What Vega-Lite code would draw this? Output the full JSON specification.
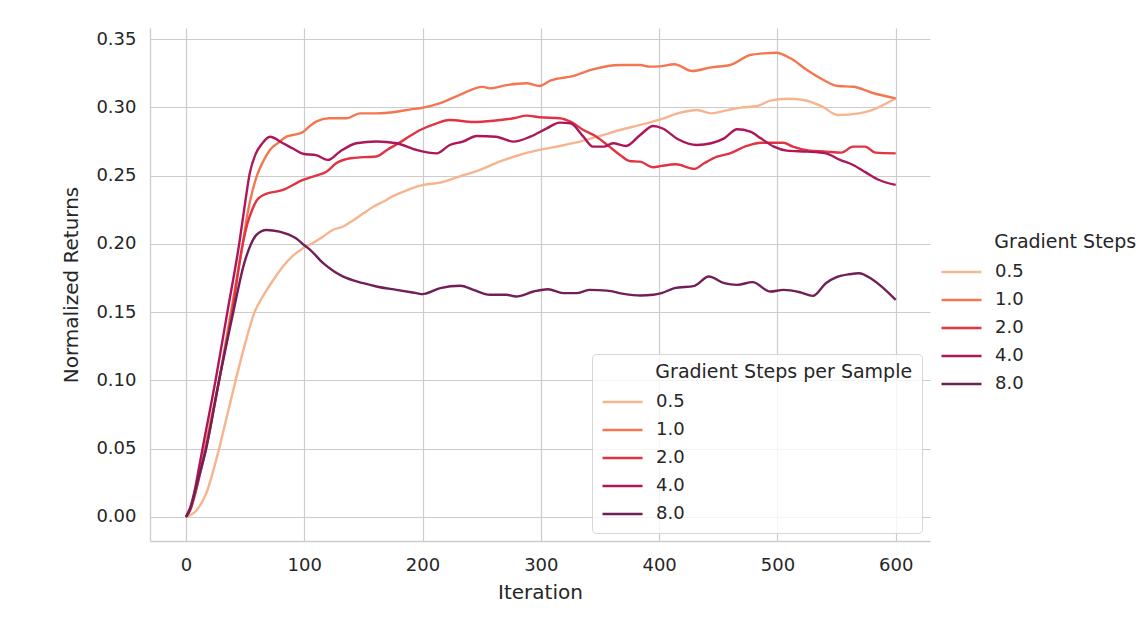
{
  "$schema": "https://vega.github.io/schema/vega-lite/v6.json",
  "width": 780,
  "height": 513,
  "autosize": {"type": "none"},
  "padding": {"left": 150, "top": 28, "right": 206, "bottom": 88},
  "background": "white",
  "config": {
    "view": {"stroke": null},
    "font": "DejaVu Sans",
    "axis": {
      "domainColor": "#cccccc",
      "domainWidth": 1.3,
      "gridColor": "#cccccc",
      "gridWidth": 1.2,
      "ticks": false,
      "labelFontSize": 18,
      "labelColor": "#262626",
      "titleFontSize": 20,
      "titleFontWeight": "normal",
      "titleColor": "#262626"
    }
  },
  "datasets": {
    "runs": [
      {"steps":"0.5","iteration":0,"ret":0},{"steps":"0.5","iteration":8,"ret":0.004},{"steps":"0.5","iteration":17,"ret":0.017},{"steps":"0.5","iteration":28,"ret":0.05},{"steps":"0.5","iteration":35,"ret":0.075},{"steps":"0.5","iteration":42,"ret":0.1},{"steps":"0.5","iteration":50,"ret":0.127},{"steps":"0.5","iteration":58,"ret":0.15},{"steps":"0.5","iteration":65,"ret":0.1615},{"steps":"0.5","iteration":75,"ret":0.175},{"steps":"0.5","iteration":82,"ret":0.1834},{"steps":"0.5","iteration":90,"ret":0.191},{"steps":"0.5","iteration":99,"ret":0.1968},{"steps":"0.5","iteration":108,"ret":0.201},{"steps":"0.5","iteration":116,"ret":0.2054},{"steps":"0.5","iteration":124,"ret":0.2102},{"steps":"0.5","iteration":133,"ret":0.2127},{"steps":"0.5","iteration":141,"ret":0.217},{"steps":"0.5","iteration":150,"ret":0.2224},{"steps":"0.5","iteration":158,"ret":0.227},{"steps":"0.5","iteration":167,"ret":0.231},{"steps":"0.5","iteration":175,"ret":0.235},{"steps":"0.5","iteration":184,"ret":0.2383},{"steps":"0.5","iteration":192,"ret":0.241},{"steps":"0.5","iteration":201,"ret":0.2432},{"steps":"0.5","iteration":215,"ret":0.2449},{"steps":"0.5","iteration":231,"ret":0.2493},{"steps":"0.5","iteration":248,"ret":0.2541},{"steps":"0.5","iteration":265,"ret":0.2602},{"steps":"0.5","iteration":282,"ret":0.2651},{"steps":"0.5","iteration":299,"ret":0.2688},{"steps":"0.5","iteration":316,"ret":0.2717},{"steps":"0.5","iteration":333,"ret":0.2749},{"steps":"0.5","iteration":350,"ret":0.279},{"steps":"0.5","iteration":367,"ret":0.2834},{"steps":"0.5","iteration":384,"ret":0.2871},{"steps":"0.5","iteration":401,"ret":0.2912},{"steps":"0.5","iteration":418,"ret":0.2961},{"steps":"0.5","iteration":432,"ret":0.298},{"steps":"0.5","iteration":444,"ret":0.2956},{"steps":"0.5","iteration":458,"ret":0.298},{"steps":"0.5","iteration":469,"ret":0.2998},{"steps":"0.5","iteration":483,"ret":0.301},{"steps":"0.5","iteration":494,"ret":0.3049},{"steps":"0.5","iteration":508,"ret":0.3063},{"steps":"0.5","iteration":522,"ret":0.3054},{"steps":"0.5","iteration":538,"ret":0.3005},{"steps":"0.5","iteration":551,"ret":0.2944},{"steps":"0.5","iteration":569,"ret":0.2956},{"steps":"0.5","iteration":580,"ret":0.298},{"steps":"0.5","iteration":600,"ret":0.3066},
      {"steps":"1.0","iteration":0,"ret":0},{"steps":"1.0","iteration":4,"ret":0.006},{"steps":"1.0","iteration":8,"ret":0.018},{"steps":"1.0","iteration":12,"ret":0.033},{"steps":"1.0","iteration":16,"ret":0.05},{"steps":"1.0","iteration":22,"ret":0.075},{"steps":"1.0","iteration":28,"ret":0.1},{"steps":"1.0","iteration":33,"ret":0.125},{"steps":"1.0","iteration":38,"ret":0.15},{"steps":"1.0","iteration":43,"ret":0.175},{"steps":"1.0","iteration":48,"ret":0.2},{"steps":"1.0","iteration":52,"ret":0.222},{"steps":"1.0","iteration":56,"ret":0.238},{"steps":"1.0","iteration":60,"ret":0.25},{"steps":"1.0","iteration":65,"ret":0.26},{"steps":"1.0","iteration":71,"ret":0.2688},{"steps":"1.0","iteration":78,"ret":0.274},{"steps":"1.0","iteration":85,"ret":0.2785},{"steps":"1.0","iteration":92,"ret":0.28},{"steps":"1.0","iteration":99,"ret":0.282},{"steps":"1.0","iteration":105,"ret":0.2865},{"steps":"1.0","iteration":110,"ret":0.2895},{"steps":"1.0","iteration":121,"ret":0.292},{"steps":"1.0","iteration":136,"ret":0.292},{"steps":"1.0","iteration":147,"ret":0.2956},{"steps":"1.0","iteration":161,"ret":0.2956},{"steps":"1.0","iteration":178,"ret":0.2968},{"steps":"1.0","iteration":190,"ret":0.2985},{"steps":"1.0","iteration":198,"ret":0.2993},{"steps":"1.0","iteration":215,"ret":0.303},{"steps":"1.0","iteration":231,"ret":0.309},{"steps":"1.0","iteration":251,"ret":0.315},{"steps":"1.0","iteration":257,"ret":0.3139},{"steps":"1.0","iteration":271,"ret":0.3163},{"steps":"1.0","iteration":288,"ret":0.3176},{"steps":"1.0","iteration":299,"ret":0.3156},{"steps":"1.0","iteration":308,"ret":0.3195},{"steps":"1.0","iteration":327,"ret":0.3229},{"steps":"1.0","iteration":344,"ret":0.3278},{"steps":"1.0","iteration":367,"ret":0.331},{"steps":"1.0","iteration":384,"ret":0.331},{"steps":"1.0","iteration":392,"ret":0.3298},{"steps":"1.0","iteration":400,"ret":0.33},{"steps":"1.0","iteration":413,"ret":0.3315},{"steps":"1.0","iteration":428,"ret":0.3266},{"steps":"1.0","iteration":444,"ret":0.3293},{"steps":"1.0","iteration":460,"ret":0.331},{"steps":"1.0","iteration":477,"ret":0.3383},{"steps":"1.0","iteration":488,"ret":0.3395},{"steps":"1.0","iteration":499,"ret":0.34},{"steps":"1.0","iteration":511,"ret":0.3359},{"steps":"1.0","iteration":525,"ret":0.3273},{"steps":"1.0","iteration":539,"ret":0.32},{"steps":"1.0","iteration":551,"ret":0.3156},{"steps":"1.0","iteration":564,"ret":0.3151},{"steps":"1.0","iteration":580,"ret":0.3107},{"steps":"1.0","iteration":600,"ret":0.3066},
      {"steps":"2.0","iteration":0,"ret":0},{"steps":"2.0","iteration":4,"ret":0.006},{"steps":"2.0","iteration":8,"ret":0.018},{"steps":"2.0","iteration":12,"ret":0.032},{"steps":"2.0","iteration":17,"ret":0.05},{"steps":"2.0","iteration":28,"ret":0.1},{"steps":"2.0","iteration":39,"ret":0.15},{"steps":"2.0","iteration":48,"ret":0.2},{"steps":"2.0","iteration":52,"ret":0.215},{"steps":"2.0","iteration":56,"ret":0.225},{"steps":"2.0","iteration":60,"ret":0.232},{"steps":"2.0","iteration":66,"ret":0.236},{"steps":"2.0","iteration":82,"ret":0.2395},{"steps":"2.0","iteration":99,"ret":0.2468},{"steps":"2.0","iteration":110,"ret":0.25},{"steps":"2.0","iteration":119,"ret":0.253},{"steps":"2.0","iteration":127,"ret":0.259},{"steps":"2.0","iteration":139,"ret":0.2627},{"steps":"2.0","iteration":150,"ret":0.2635},{"steps":"2.0","iteration":161,"ret":0.264},{"steps":"2.0","iteration":170,"ret":0.2688},{"steps":"2.0","iteration":184,"ret":0.276},{"steps":"2.0","iteration":198,"ret":0.2834},{"steps":"2.0","iteration":212,"ret":0.2883},{"steps":"2.0","iteration":223,"ret":0.2907},{"steps":"2.0","iteration":243,"ret":0.2893},{"steps":"2.0","iteration":260,"ret":0.2902},{"steps":"2.0","iteration":277,"ret":0.292},{"steps":"2.0","iteration":288,"ret":0.2939},{"steps":"2.0","iteration":299,"ret":0.2927},{"steps":"2.0","iteration":316,"ret":0.292},{"steps":"2.0","iteration":325,"ret":0.2895},{"steps":"2.0","iteration":336,"ret":0.2834},{"steps":"2.0","iteration":347,"ret":0.2785},{"steps":"2.0","iteration":358,"ret":0.2712},{"steps":"2.0","iteration":367,"ret":0.2651},{"steps":"2.0","iteration":375,"ret":0.2607},{"steps":"2.0","iteration":384,"ret":0.2602},{"steps":"2.0","iteration":395,"ret":0.2561},{"steps":"2.0","iteration":402,"ret":0.2571},{"steps":"2.0","iteration":414,"ret":0.2583},{"steps":"2.0","iteration":430,"ret":0.2549},{"steps":"2.0","iteration":438,"ret":0.259},{"steps":"2.0","iteration":449,"ret":0.2639},{"steps":"2.0","iteration":460,"ret":0.2663},{"steps":"2.0","iteration":474,"ret":0.2717},{"steps":"2.0","iteration":486,"ret":0.2741},{"steps":"2.0","iteration":505,"ret":0.2741},{"steps":"2.0","iteration":513,"ret":0.2712},{"steps":"2.0","iteration":527,"ret":0.2683},{"steps":"2.0","iteration":541,"ret":0.2676},{"steps":"2.0","iteration":554,"ret":0.2668},{"steps":"2.0","iteration":564,"ret":0.2712},{"steps":"2.0","iteration":574,"ret":0.2712},{"steps":"2.0","iteration":583,"ret":0.2668},{"steps":"2.0","iteration":600,"ret":0.2663},
      {"steps":"4.0","iteration":0,"ret":0},{"steps":"4.0","iteration":4,"ret":0.008},{"steps":"4.0","iteration":8,"ret":0.022},{"steps":"4.0","iteration":11,"ret":0.036},{"steps":"4.0","iteration":14,"ret":0.05},{"steps":"4.0","iteration":25,"ret":0.1},{"steps":"4.0","iteration":35,"ret":0.15},{"steps":"4.0","iteration":45,"ret":0.2},{"steps":"4.0","iteration":50,"ret":0.23},{"steps":"4.0","iteration":54,"ret":0.252},{"steps":"4.0","iteration":59,"ret":0.266},{"steps":"4.0","iteration":64,"ret":0.273},{"steps":"4.0","iteration":71,"ret":0.2785},{"steps":"4.0","iteration":82,"ret":0.2737},{"steps":"4.0","iteration":90,"ret":0.27},{"steps":"4.0","iteration":99,"ret":0.266},{"steps":"4.0","iteration":110,"ret":0.265},{"steps":"4.0","iteration":120,"ret":0.2615},{"steps":"4.0","iteration":130,"ret":0.2675},{"steps":"4.0","iteration":144,"ret":0.2737},{"steps":"4.0","iteration":161,"ret":0.275},{"steps":"4.0","iteration":178,"ret":0.2737},{"steps":"4.0","iteration":195,"ret":0.2688},{"steps":"4.0","iteration":212,"ret":0.2663},{"steps":"4.0","iteration":223,"ret":0.2724},{"steps":"4.0","iteration":234,"ret":0.2749},{"steps":"4.0","iteration":246,"ret":0.279},{"steps":"4.0","iteration":262,"ret":0.2785},{"steps":"4.0","iteration":277,"ret":0.2749},{"steps":"4.0","iteration":291,"ret":0.2785},{"steps":"4.0","iteration":305,"ret":0.2846},{"steps":"4.0","iteration":316,"ret":0.2888},{"steps":"4.0","iteration":325,"ret":0.2883},{"steps":"4.0","iteration":336,"ret":0.2785},{"steps":"4.0","iteration":344,"ret":0.2712},{"steps":"4.0","iteration":353,"ret":0.2712},{"steps":"4.0","iteration":361,"ret":0.2737},{"steps":"4.0","iteration":372,"ret":0.2717},{"steps":"4.0","iteration":384,"ret":0.2798},{"steps":"4.0","iteration":395,"ret":0.2863},{"steps":"4.0","iteration":403,"ret":0.2845},{"steps":"4.0","iteration":416,"ret":0.2766},{"steps":"4.0","iteration":432,"ret":0.2724},{"steps":"4.0","iteration":444,"ret":0.2737},{"steps":"4.0","iteration":455,"ret":0.2773},{"steps":"4.0","iteration":466,"ret":0.2839},{"steps":"4.0","iteration":477,"ret":0.2822},{"steps":"4.0","iteration":486,"ret":0.2773},{"steps":"4.0","iteration":497,"ret":0.2712},{"steps":"4.0","iteration":508,"ret":0.2683},{"steps":"4.0","iteration":525,"ret":0.2676},{"steps":"4.0","iteration":541,"ret":0.2663},{"steps":"4.0","iteration":553,"ret":0.2615},{"steps":"4.0","iteration":564,"ret":0.2578},{"steps":"4.0","iteration":575,"ret":0.2522},{"steps":"4.0","iteration":586,"ret":0.2468},{"steps":"4.0","iteration":600,"ret":0.2432},
      {"steps":"8.0","iteration":0,"ret":0},{"steps":"8.0","iteration":4,"ret":0.007},{"steps":"8.0","iteration":8,"ret":0.02},{"steps":"8.0","iteration":12,"ret":0.033},{"steps":"8.0","iteration":17,"ret":0.05},{"steps":"8.0","iteration":28,"ret":0.1},{"steps":"8.0","iteration":40,"ret":0.15},{"steps":"8.0","iteration":49,"ret":0.185},{"steps":"8.0","iteration":55,"ret":0.2},{"steps":"8.0","iteration":60,"ret":0.207},{"steps":"8.0","iteration":68,"ret":0.2102},{"steps":"8.0","iteration":79,"ret":0.209},{"steps":"8.0","iteration":93,"ret":0.2041},{"steps":"8.0","iteration":100,"ret":0.199},{"steps":"8.0","iteration":105,"ret":0.1956},{"steps":"8.0","iteration":116,"ret":0.1859},{"steps":"8.0","iteration":125,"ret":0.18},{"steps":"8.0","iteration":133,"ret":0.176},{"steps":"8.0","iteration":150,"ret":0.1712},{"steps":"8.0","iteration":161,"ret":0.1688},{"steps":"8.0","iteration":178,"ret":0.1663},{"steps":"8.0","iteration":195,"ret":0.1639},{"steps":"8.0","iteration":200,"ret":0.1632},{"steps":"8.0","iteration":215,"ret":0.1676},{"steps":"8.0","iteration":232,"ret":0.1693},{"steps":"8.0","iteration":243,"ret":0.1663},{"steps":"8.0","iteration":257,"ret":0.1627},{"steps":"8.0","iteration":271,"ret":0.1627},{"steps":"8.0","iteration":279,"ret":0.1615},{"steps":"8.0","iteration":294,"ret":0.1651},{"steps":"8.0","iteration":306,"ret":0.1668},{"steps":"8.0","iteration":319,"ret":0.1639},{"steps":"8.0","iteration":330,"ret":0.1639},{"steps":"8.0","iteration":341,"ret":0.1663},{"steps":"8.0","iteration":356,"ret":0.1658},{"steps":"8.0","iteration":370,"ret":0.1634},{"steps":"8.0","iteration":384,"ret":0.1622},{"steps":"8.0","iteration":395,"ret":0.1627},{"steps":"8.0","iteration":402,"ret":0.1639},{"steps":"8.0","iteration":413,"ret":0.1676},{"steps":"8.0","iteration":430,"ret":0.1693},{"steps":"8.0","iteration":442,"ret":0.1761},{"steps":"8.0","iteration":455,"ret":0.1712},{"steps":"8.0","iteration":466,"ret":0.17},{"steps":"8.0","iteration":479,"ret":0.172},{"steps":"8.0","iteration":494,"ret":0.1651},{"steps":"8.0","iteration":505,"ret":0.1663},{"steps":"8.0","iteration":519,"ret":0.1646},{"steps":"8.0","iteration":530,"ret":0.1619},{"steps":"8.0","iteration":541,"ret":0.1712},{"steps":"8.0","iteration":550,"ret":0.1756},{"steps":"8.0","iteration":561,"ret":0.1778},{"steps":"8.0","iteration":569,"ret":0.1785},{"steps":"8.0","iteration":580,"ret":0.1741},{"steps":"8.0","iteration":600,"ret":0.159}
    ]
  },
  "data": {"name": "runs"},
  "encoding": {
    "x": {
      "field": "iteration",
      "type": "quantitative",
      "title": "Iteration",
      "scale": {"domain": [-30.4, 629], "nice": false, "zero": false},
      "axis": {"values": [0, 100, 200, 300, 400, 500, 600], "labelPadding": 15, "titlePadding": 8, "grid": true}
    },
    "y": {
      "field": "ret",
      "type": "quantitative",
      "title": "Normalized Returns",
      "scale": {"domain": [-0.0176, 0.3581], "nice": false, "zero": false},
      "axis": {"values": [0, 0.05, 0.1, 0.15, 0.2, 0.25, 0.3, 0.35], "format": ".2f", "labelPadding": 14, "titlePadding": 14, "grid": true}
    }
  },
  "layer": [
    {
      "mark": {"type": "line", "strokeWidth": 2.4, "interpolate": "monotone"},
      "encoding": {
        "color": {
          "field": "steps",
          "type": "nominal",
          "scale": {"domain": ["0.5", "1.0", "2.0", "4.0", "8.0"], "range": ["#f6b48f", "#f37651", "#e13342", "#ad1759", "#701f57"]},
          "legend": {
            "orient": "bottom-right",
            "offset": 8,
            "title": "\u200b\u00a0\u00a0\u00a0\u00a0\u00a0\u00a0\u00a0\u00a0\u00a0Gradient Steps per Sample",
            "titleLimit": 1000,
            "titleFontSize": 19,
            "titleFontWeight": "normal",
            "titleColor": "#262626",
            "titlePadding": 10,
            "labelFontSize": 18,
            "labelColor": "#262626",
            "labelOffset": 12,
            "symbolType": "stroke",
            "symbolSize": 1600,
            "symbolStrokeWidth": 2.6,
            "clipHeight": 20,
            "rowPadding": 8,
            "padding": 9,
            "strokeColor": "#d6d6d6",
            "fillColor": "rgba(255,255,255,0.8)",
            "cornerRadius": 4
          }
        }
      }
    },
    {
      "mark": {"type": "line", "strokeWidth": 2.4, "interpolate": "monotone", "strokeOpacity": 0},
      "encoding": {
        "color": {
          "field": "steps",
          "type": "nominal",
          "scale": {"domain": ["0.5", "1.0", "2.0", "4.0", "8.0"], "range": ["#f6b48f", "#f37651", "#e13342", "#ad1759", "#701f57"]},
          "legend": {
            "orient": "none",
            "legendX": 790,
            "legendY": 205,
            "title": "\u200b\u00a0\u00a0\u00a0\u00a0\u00a0\u00a0\u00a0\u00a0\u00a0Gradient Steps per Sample",
            "titleLimit": 1000,
            "titleFontSize": 19,
            "titleFontWeight": "normal",
            "titleColor": "#262626",
            "titlePadding": 10,
            "labelFontSize": 18,
            "labelColor": "#262626",
            "labelOffset": 12,
            "symbolType": "stroke",
            "symbolSize": 1600,
            "symbolStrokeWidth": 2.6,
            "symbolOpacity": 1,
            "clipHeight": 20,
            "rowPadding": 8,
            "padding": 0
          }
        }
      }
    }
  ],
  "resolve": {"scale": {"color": "independent"}, "legend": {"color": "independent"}}
}
